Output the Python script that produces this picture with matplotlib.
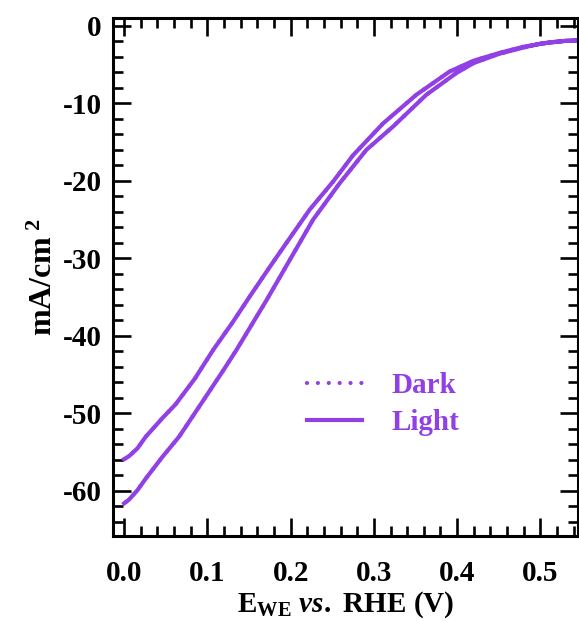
import numpy as np
import matplotlib.pyplot as plt

plt.rcParams['font.family'] = ['Liberation Serif', 'DejaVu Serif']
plt.rcParams['font.weight'] = 'bold'
plt.rcParams['mathtext.fontset'] = 'custom'
plt.rcParams['mathtext.rm'] = 'Liberation Serif:bold'
plt.rcParams['mathtext.bf'] = 'Liberation Serif:bold'
plt.rcParams['mathtext.it'] = 'Liberation Serif:italic'

# LSV loop: forward branch (upper) and return branch (lower)
e_up = [0.0, 0.006, 0.016, 0.026, 0.046, 0.062, 0.085, 0.107, 0.13, 0.151, 0.175,
        0.195, 0.223, 0.251, 0.275, 0.311, 0.351, 0.391, 0.42, 0.451, 0.48,
        0.511, 0.53, 0.545]
j_up = [-55.9, -55.5, -54.5, -53.0, -50.6, -48.8, -45.5, -41.8, -38.3, -34.9, -31.1,
        -28.0, -23.7, -20.1, -16.7, -12.6, -8.9, -5.9, -4.5, -3.5, -2.7,
        -2.15, -1.95, -1.9]
e_dn = [0.545, 0.53, 0.5, 0.48, 0.451, 0.42, 0.399, 0.363, 0.323, 0.291, 0.259,
        0.227, 0.199, 0.171, 0.135, 0.12, 0.094, 0.066, 0.046, 0.026, 0.016,
        0.006, 0.0]
j_dn = [-1.9, -1.95, -2.3, -2.8, -3.6, -4.8, -6.1, -8.9, -13.0, -16.0, -20.3,
        -25.0, -30.2, -35.4, -41.8, -44.3, -48.5, -53.0, -55.6, -58.4, -59.9,
        -61.1, -61.6]

e_light = e_up + e_dn
j_light = j_up + j_dn
# dark scan lies under the light one on this scale
e_dark = e_light
j_dark = j_light

purple = '#9140E6'

fig = plt.figure(figsize=(5.79, 6.21), dpi=100)
ax = fig.add_axes([0.195, 0.137, 0.803, 0.834])

ax.plot(e_dark, j_dark, color=purple, lw=3, linestyle=(0, (0.01, 2.6)),
        dash_capstyle='round', label='Dark')
ax.plot(e_light, j_light, color=purple, lw=3, solid_joinstyle='round', label='Light')

ax.set_xlim(-0.0135, 0.545)
ax.set_ylim(-65.8, 1.0)
ax.set_xticks(np.arange(0, 0.51, 0.1))
ax.set_xticks(np.arange(0, 0.55, 0.02), minor=True)
ax.set_yticks(np.arange(-60, 1, 10))
ax.set_yticks(np.arange(-64, 1, 2), minor=True)
ax.set_xticklabels(['0.0', '0.1', '0.2', '0.3', '0.4', '0.5'])
ax.set_yticklabels(['-60', '-50', '-40', '-30', '-20', '-10', '0'])

for s in ax.spines.values():
    s.set_linewidth(2.2)
ax.tick_params(which='both', direction='in', top=True, right=True, width=1.9,
               labelsize=21)
ax.tick_params(axis='y', pad=8)
ax.tick_params(axis='x', pad=17)
ax.tick_params(which='major', length=13)
ax.tick_params(which='minor', length=7)

ax.set_xlabel(r'$\mathrm{E_{WE}}\ \mathit{vs.}\ \mathrm{RHE\ (V)}$', fontsize=21, labelpad=2)
ax.set_ylabel(r'mA/cm$^{\ 2}$', fontsize=23, fontweight='bold', labelpad=3)

leg = ax.legend(loc='center left', bbox_to_anchor=(0.36, 0.255), frameon=False,
                fontsize=21, handlelength=1.9, handletextpad=1.0, labelspacing=0.35,
                labelcolor=purple)

fig.savefig('out.png', dpi=100)
